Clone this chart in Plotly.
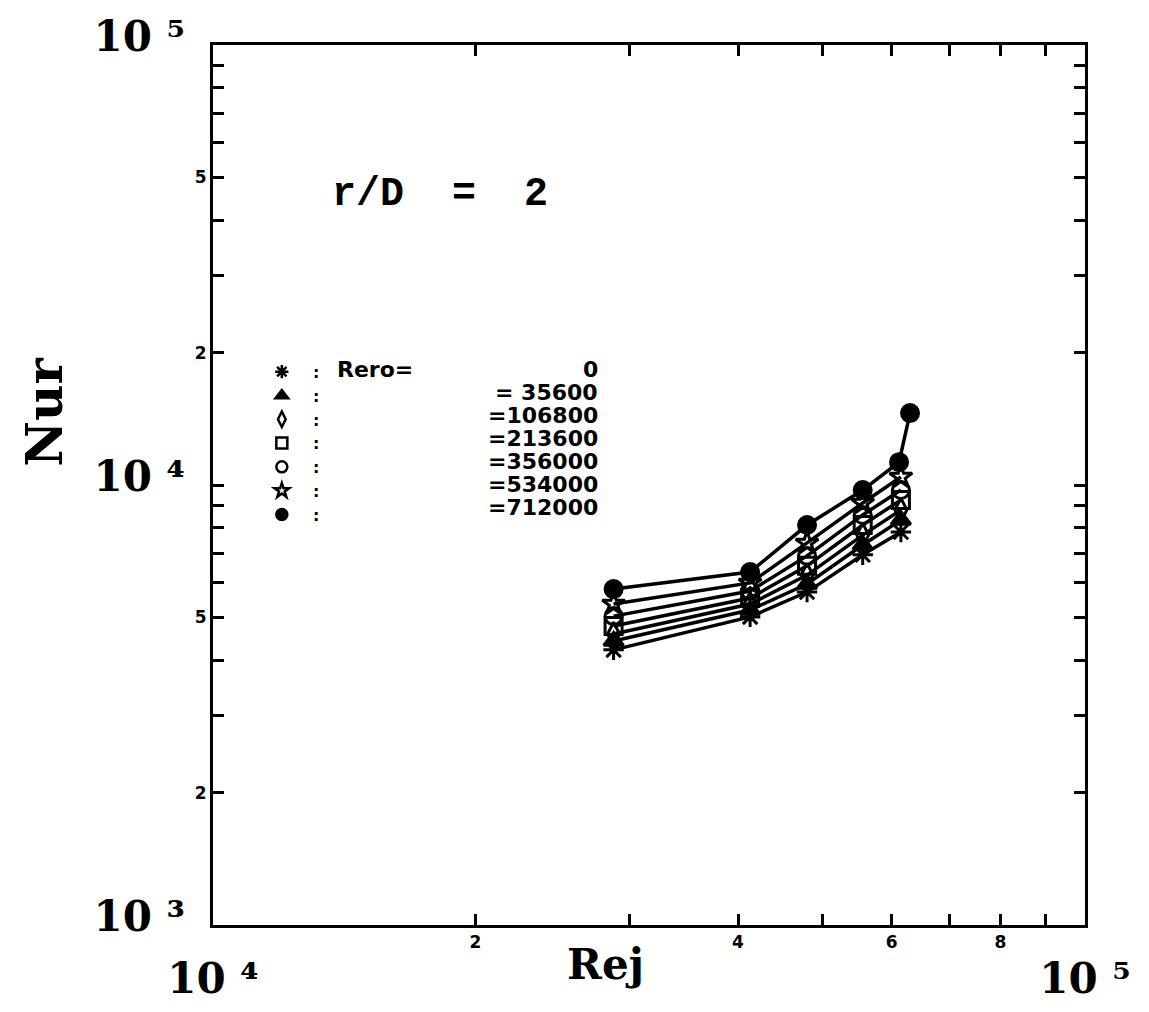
import plotly.graph_objects as go

# ---------------- data ----------------
rero_values = ["0", "35600", "106800", "213600", "356000", "534000", "712000"]
rej_common = [2.88e4, 4.13e4, 4.80e4, 5.56e4, 6.15e4]
rej_712000 = [2.88e4, 4.13e4, 4.80e4, 5.56e4, 6.12e4, 6.30e4]

nur_0 = [4220, 5015, 5710, 6940, 7820]
nur_35600 = [4420, 5200, 5955, 7305, 8325]
nur_106800 = [4585, 5365, 6240, 7695, 8775]
nur_213600 = [4780, 5535, 6550, 8110, 9245]
nur_356000 = [5035, 5740, 6900, 8550, 9740]
nur_534000 = [5365, 5990, 7385, 9100, 10430]
nur_712000 = [5800, 6340, 8110, 9740, 11270, 14570]

symbols = ["asterisk-open", "triangle-up", "diamond-tall-open", "square-open",
           "circle-open", "star-open", "circle"]

# labelled ticks and unlabelled (minor) ticks
x_tickvals = [1e4, 2e4, 4e4, 6e4, 8e4, 1e5]
x_ticklabels = ["10|4", "2", "4", "6", "8", "10|5"]
x_minorvals = [3e4, 5e4, 7e4, 9e4]
y_tickvals = [1e3, 2e3, 5e3, 1e4, 2e4, 5e4, 1e5]
y_ticklabels = ["10|3", "2", "5", "10|4", "2", "5", "10|5"]
y_minorvals = [3e3, 4e3, 6e3, 7e3, 8e3, 9e3, 3e4, 4e4, 6e4, 7e4, 8e4, 9e4]

series_x = [rej_common] * 6 + [rej_712000]
series_y = [nur_0, nur_35600, nur_106800, nur_213600, nur_356000, nur_534000, nur_712000]

# ---------------- label formatting ----------------
NB = "\u00a0"
SUP = {"3": "\u00b3", "4": "\u2074", "5": "\u2075"}

def decade(b, e):
    return ("<span style=\"font-size:42px;font-family:'DejaVu Serif'\"><b>%s%s%s</b></span>"
            % (b, NB, SUP[e]))

def fmt_x(lbl):
    if "|" in lbl:
        b, e = lbl.split("|")
        return "<br><br>" + decade(b, e)
    return "<b>%s</b>" % lbl

def fmt_y(lbl):
    if "|" in lbl:
        b, e = lbl.split("|")
        return decade(b, e) + NB * 4
    return "<b>%s</b>" % lbl

fig = go.Figure()

for sx, sy, sym, lab in zip(series_x, series_y, symbols, rero_values):
    fig.add_trace(go.Scatter(
        x=sx, y=sy, mode="lines+markers", showlegend=False, legendgroup=lab,
        line=dict(color="black", width=3.5),
        marker=dict(symbol=sym, size=17, color="black",
                    line=dict(color="black", width=3)),
        name=lab))

# legend entries (symbols only, no data)
for sym, lab in zip(symbols, rero_values):
    fig.add_trace(go.Scatter(
        x=[None], y=[None], mode="markers", legendgroup=lab,
        marker=dict(symbol=sym, size=11, color="black",
                    line=dict(color="black", width=2.5)),
        name="<b>" + NB + NB + ":</b>", showlegend=True))

axis_common = dict(
    type="log", showgrid=False, zeroline=False, showline=True,
    linecolor="black", linewidth=3, mirror="ticks", ticks="inside",
    ticklen=11, tickwidth=2.5, tickcolor="black", automargin=False,
    tickfont=dict(family="DejaVu Sans", size=17, color="black"),
)
minor_common = dict(ticks="inside", ticklen=11, tickwidth=2.5, tickcolor="black",
                    showgrid=False)

fig.update_xaxes(range=[4, 5], tickmode="array", tickvals=x_tickvals,
                 ticktext=[fmt_x(t) for t in x_ticklabels], tickangle=0,
                 minor=dict(tickmode="array", tickvals=x_minorvals, **minor_common),
                 **axis_common)
fig.update_yaxes(range=[3, 5], tickmode="array", tickvals=y_tickvals,
                 ticktext=[fmt_y(t) for t in y_ticklabels],
                 minor=dict(tickmode="array", tickvals=y_minorvals, **minor_common),
                 **axis_common)

# legend text annotations (values right-aligned)
row0 = 0.6307
drow = 23.0 / 880
annos = [dict(text="<b>Rero=</b>", x=0.140, y=row0, xref="paper", yref="paper",
              xanchor="left", yanchor="middle", showarrow=False,
              font=dict(family="DejaVu Sans", size=22, color="black"))]
for i, v in enumerate(rero_values):
    txt = v if i == 0 else ("= " + v if len(v) < 6 else "=" + v)
    annos.append(dict(text="<b>%s</b>" % txt, x=0.4438, y=row0 - i * drow,
                      xref="paper", yref="paper", xanchor="right", yanchor="middle",
                      showarrow=False,
                      font=dict(family="DejaVu Sans", size=22, color="black")))

annos += [
    dict(text="<b>r/D" + NB * 2 + "=" + NB * 2 + "2</b>", x=0.26, y=0.83,
         xref="paper", yref="paper", xanchor="center", yanchor="middle",
         showarrow=False, font=dict(family="Liberation Mono", size=40, color="black")),
    dict(text="<b>Nur</b>", x=-0.193, y=0.583, xref="paper", yref="paper",
         xanchor="center", yanchor="middle", textangle=-90, showarrow=False,
         font=dict(family="DejaVu Serif", size=50, color="black")),
    dict(text="<b>Rej</b>", x=0.45, y=-0.045, xref="paper", yref="paper",
         xanchor="center", yanchor="middle", showarrow=False,
         font=dict(family="DejaVu Serif", size=42, color="black")),
]

fig.update_layout(
    width=1149, height=1012,
    margin=dict(l=213, r=64, t=45, b=87),
    paper_bgcolor="white", plot_bgcolor="white",
    annotations=annos,
    legend=dict(x=0.056, y=0.648, xanchor="left", yanchor="top",
                bgcolor="rgba(0,0,0,0)", tracegroupgap=0,
                font=dict(family="DejaVu Sans", size=16, color="black"),
                itemwidth=30),
)

fig.write_html("out.html")
